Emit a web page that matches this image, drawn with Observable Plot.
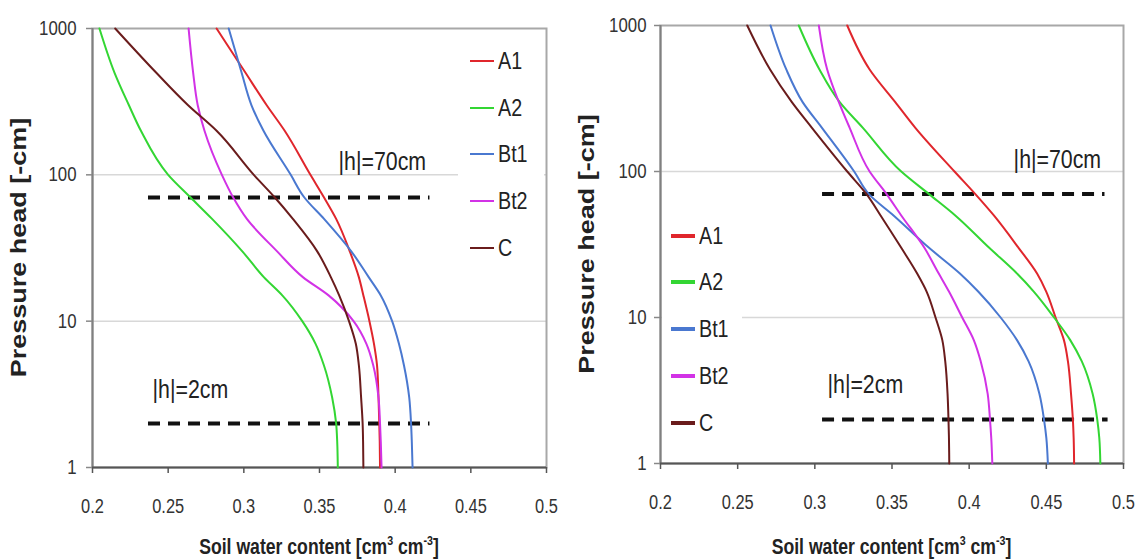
<!DOCTYPE html>
<html><head><meta charset="utf-8">
<script src="https://cdn.jsdelivr.net/npm/d3@7"></script>
<script src="https://cdn.jsdelivr.net/npm/@observablehq/plot@0.6"></script>
<style>
body{margin:0;background:#fff;}
#wrap{position:relative;width:1136px;height:560px;overflow:hidden;font-family:"Liberation Sans",Arial,sans-serif;color:#222;}
.panel{position:absolute;top:0;}
.legend{position:absolute;background:#fff;}
.row{position:absolute;display:flex;align-items:center;height:30px;font-size:24px;white-space:nowrap;}
.sw{display:inline-block;width:24px;margin-right:4px;}
.lt{display:inline-block;transform:scaleX(0.82);transform-origin:left center;}
</style>
</head><body>
<div id="wrap"></div>
<script>
// ---- data ----
const seriesNames = ["A1", "A2", "Bt1", "Bt2", "C"];
const seriesColors = ["#e0262c", "#33d633", "#4a78d0", "#d232e6", "#6a1c1c"];
const hLevels = [1000, 500, 300, 200, 100, 70, 50, 30, 20, 15, 10, 7, 5, 3, 2, 1.5, 1];

// left panel: water content at each pressure head level
const leftA1  = [0.282, 0.301, 0.315, 0.327, 0.344, 0.353, 0.361, 0.370, 0.376, 0.379, 0.383, 0.386, 0.388, 0.389, 0.3895, 0.3898, 0.390];
const leftA2  = [0.2046, 0.2145, 0.224, 0.232, 0.250, 0.2648, 0.279, 0.299, 0.3132, 0.3254, 0.3386, 0.3474, 0.3529, 0.3584, 0.361, 0.3617, 0.3621];
const leftBt1 = [0.290, 0.2985, 0.305, 0.313, 0.331, 0.340, 0.353, 0.371, 0.3825, 0.3905, 0.398, 0.4025, 0.4058, 0.4093, 0.4105, 0.411, 0.4115];
const leftBt2 = [0.2635, 0.2665, 0.2695, 0.274, 0.2855, 0.293, 0.302, 0.322, 0.339, 0.356, 0.3725, 0.381, 0.3855, 0.389, 0.390, 0.3905, 0.391];
const leftC   = [0.215, 0.242, 0.263, 0.282, 0.3066, 0.3205, 0.3324, 0.3485, 0.3575, 0.363, 0.3695, 0.374, 0.376, 0.3775, 0.3785, 0.3788, 0.379];

// right panel
const rightA1  = [0.321, 0.3355, 0.352, 0.365, 0.3905, 0.404, 0.416, 0.432, 0.444, 0.450, 0.456, 0.4614, 0.464, 0.466, 0.4672, 0.4677, 0.468];
const rightA2  = [0.2896, 0.303, 0.316, 0.331, 0.356, 0.374, 0.391, 0.413, 0.431, 0.442, 0.455, 0.4655, 0.473, 0.480, 0.483, 0.4843, 0.485];
const rightBt1 = [0.2713, 0.2815, 0.292, 0.3045, 0.3255, 0.335, 0.351, 0.374, 0.394, 0.406, 0.4204, 0.431, 0.4385, 0.4455, 0.4485, 0.450, 0.451];
const rightBt2 = [0.3026, 0.308, 0.3155, 0.3225, 0.3355, 0.3465, 0.356, 0.371, 0.3803, 0.387, 0.3955, 0.403, 0.4075, 0.412, 0.4135, 0.4143, 0.415];
const rightC   = [0.2562, 0.271, 0.285, 0.298, 0.321, 0.3335, 0.3426, 0.356, 0.3663, 0.3725, 0.3782, 0.3826, 0.3845, 0.386, 0.3866, 0.3869, 0.3871];

const xTicks = [0.2, 0.25, 0.3, 0.35, 0.4, 0.45, 0.5];
const xTickLabels = ["0.2", "0.25", "0.3", "0.35", "0.4", "0.45", "0.5"];
const yTicks = [1, 10, 100, 1000];
const yTickLabels = ["1", "10", "100", "1000"];
const gridLevels = [10, 100];

const thresholdH = [70, 2];
const leftDashFrom = [0.237, 0.237], leftDashTo = [0.423, 0.423];
const rightDashFrom = [0.305, 0.305], rightDashTo = [0.488, 0.490];

const noteTexts = ["|h|=70cm", "|h|=2cm"];
const leftNoteTheta = [0.3626, 0.2397], leftNoteH = [123, 3.41];
const rightNoteTheta = [0.4288, 0.3082], rightNoteH = [120, 3.47];

const yTitle = "Pressure head [-cm]";
const xTitleParts = ["Soil water content [cm", "3", " cm", "-3", "]"];

// ---- build ----
const FONT = '"Liberation Sans",Arial,sans-serif';
const SQUEEZE = 0.82;
function curves(arrs) {
  const out = [];
  arrs.forEach((arr, i) => hLevels.forEach((h, j) => out.push({series: seriesNames[i], h, theta: arr[j]})));
  return out;
}
function makePanel(o) {
  const dash = thresholdH.map((h, i) => ({h, x1: o.dashFrom[i], x2: o.dashTo[i]}));
  const notes = noteTexts.map((t, i) => ({text: t, theta: o.noteTheta[i], h: o.noteH[i]}));
  const svg = Plot.plot({
    width: 568, height: 560,
    marginLeft: o.ml, marginRight: o.mr, marginTop: o.mt, marginBottom: o.mb,
    x: {domain: [0.2, 0.5]},
    y: {type: "log", domain: [1, 1000]},
    color: {domain: seriesNames, range: seriesColors},
    style: {fontFamily: FONT, fontSize: "20px", color: "#222", background: "white", overflow: "visible"},
    marks: [
      Plot.gridY(gridLevels, {stroke: "#d8d8d8", strokeOpacity: 1, strokeWidth: 1.5}),
      Plot.frame({stroke: "#a8a8a8", strokeWidth: 2}),
      Plot.ruleX([0.2], {stroke: "#808080", strokeWidth: 2}),
      Plot.ruleY([1], {stroke: "#555", strokeWidth: 2}),
      Plot.axisX({ticks: xTicks, tickFormat: d => xTickLabels[xTicks.indexOf(d)], tickSize: 6, tickPadding: 25, label: null, stroke: "#555", strokeWidth: 1.5, fontSize: 20, fill: "#333"}),
      Plot.axisY({ticks: yTicks, tickFormat: d => yTickLabels[yTicks.indexOf(d)] ?? String(d), tickSize: 6, tickPadding: o.ypad, label: null, stroke: "#888", strokeWidth: 1.5, fontSize: 20.5, fill: "#333"}),
      Plot.ruleY(dash, {y: "h", x1: "x1", x2: "x2", stroke: "#111", strokeWidth: 4, strokeDasharray: "12,8"}),
      Plot.line(curves(o.arrs), {x: "theta", y: "h", z: "series", stroke: "series", strokeWidth: 2, curve: "monotone-y"}),
      Plot.text(notes, {x: "theta", y: "h", text: "text", textAnchor: "start", fontSize: 26, fill: "#222", fontFamily: FONT})
    ]
  });
  const s = d3.select(svg);
  const cx = o.ml + (568 - o.ml - o.mr) / 2;
  const xt = s.append("text").attr("class", "title").attr("transform", `translate(${cx},554) scale(${SQUEEZE},1)`).attr("text-anchor", "middle")
    .attr("font-family", FONT).attr("font-weight", "bold").attr("font-size", 21.5).attr("fill", "#222");
  xt.append("tspan").text(xTitleParts[0]);
  xt.append("tspan").attr("dy", -9).attr("font-size", 13).text(xTitleParts[1]);
  xt.append("tspan").attr("dy", 9).text(xTitleParts[2]);
  xt.append("tspan").attr("dy", -9).attr("font-size", 13).text(xTitleParts[3]);
  xt.append("tspan").attr("dy", 9).text(xTitleParts[4]);
  const cy = o.mt + (560 - o.mt - o.mb) / 2;
  s.append("text").attr("class", "title").attr("transform", `translate(26,${cy}) rotate(-90) scale(1,0.85)`)
    .attr("text-anchor", "middle").attr("font-family", FONT)
    .attr("font-weight", "bold").attr("font-size", 27).attr("fill", "#222").text(yTitle);
  const div = document.createElement("div");
  div.className = "panel";
  div.style.left = o.left + "px";
  div.appendChild(svg);
  return div;
}
const wrap = document.getElementById("wrap");
const panels = [];
panels.push(makePanel({left: 0, ml: 92, mr: 22, mt: 28, mb: 93, ypad: 10,
  arrs: [leftA1, leftA2, leftBt1, leftBt2, leftC],
  dashFrom: leftDashFrom, dashTo: leftDashTo, noteTheta: leftNoteTheta, noteH: leftNoteH}));
panels.push(makePanel({left: 568, ml: 92, mr: 13, mt: 25, mb: 97, ypad: 8,
  arrs: [rightA1, rightA2, rightBt1, rightBt2, rightC],
  dashFrom: rightDashFrom, dashTo: rightDashTo, noteTheta: rightNoteTheta, noteH: rightNoteH}));
panels.forEach(p => wrap.appendChild(p));
// condense plot texts horizontally (the reference uses a squeezed Arial)
panels.forEach(p => {
  p.querySelectorAll("text").forEach(t => {
    if (t.classList.contains("title")) return;
    const len = t.getComputedTextLength();
    if (len > 0) {
      t.setAttribute("textLength", (len * SQUEEZE).toFixed(2));
      t.setAttribute("lengthAdjust", "spacingAndGlyphs");
    }
  });
});

function legend(box, swX, rowsY, swH) {
  const lg = document.createElement("div");
  lg.className = "legend";
  Object.assign(lg.style, {left: box[0] + "px", top: box[1] + "px", width: box[2] + "px", height: box[3] + "px"});
  wrap.appendChild(lg);
  seriesNames.forEach((n, i) => {
    const r = document.createElement("div");
    r.className = "row";
    r.style.left = swX + "px";
    r.style.top = (rowsY[i] - 15) + "px";
    const sw = document.createElement("span");
    sw.className = "sw";
    sw.style.background = seriesColors[i];
    sw.style.height = swH + "px";
    r.appendChild(sw);
    const lt = document.createElement("span");
    lt.className = "lt";
    lt.textContent = n;
    r.appendChild(lt);
    wrap.appendChild(r);
  });
}
legend([458, 36, 86, 232], 470, [61, 108, 154, 201, 248], 2.5);
legend([662, 210, 80, 235], 671, [236, 282, 329, 376, 423], 3.5);
</script>
</body></html>
